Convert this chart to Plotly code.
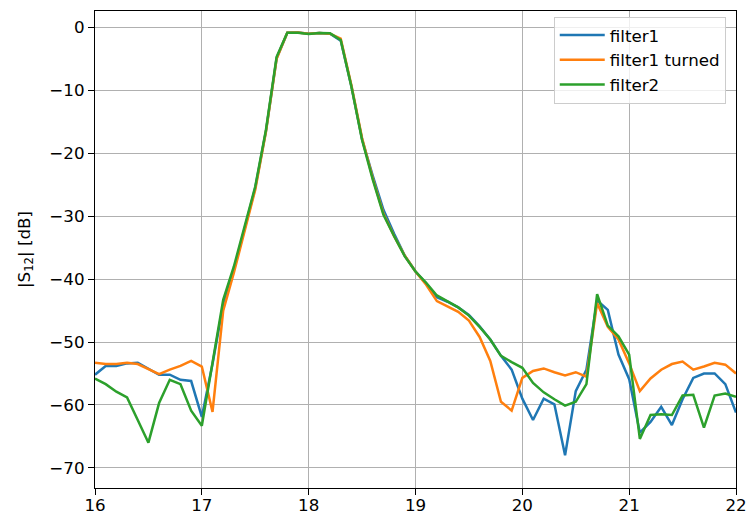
import plotly.graph_objects as go

freq = [16.0, 16.1, 16.2, 16.3, 16.4, 16.5, 16.6, 16.7, 16.8, 16.9,
        17.0, 17.1, 17.2, 17.3, 17.4, 17.5, 17.6, 17.7, 17.8, 17.9,
        18.0, 18.1, 18.2, 18.3, 18.4, 18.5, 18.6, 18.7, 18.8, 18.9,
        19.0, 19.1, 19.2, 19.3, 19.4, 19.5, 19.6, 19.7, 19.8, 19.9,
        20.0, 20.1, 20.2, 20.3, 20.4, 20.5, 20.6, 20.7, 20.8, 20.9,
        21.0, 21.1, 21.2, 21.3, 21.4, 21.5, 21.6, 21.7, 21.8, 21.9,
        22.0]

filter1 = [-55.2, -53.8, -53.8, -53.4, -53.3, -54.2, -55.2, -55.2, -56.0, -56.2,
           -61.9, -53.5, -44.0, -38.5, -31.8, -25.5, -16.5, -4.9, -0.85, -0.8,
           -1.0, -0.9, -1.0, -2.1, -9.4, -17.8, -23.6, -29.0, -32.8, -36.3,
           -38.8, -40.7, -42.9, -43.6, -44.5, -45.7, -47.5, -49.6, -52.2, -54.4,
           -59.0, -62.4, -59.0, -59.9, -68.0, -57.8, -54.4, -43.4, -44.9, -52.0,
           -55.9, -64.4, -62.7, -60.3, -63.2, -59.1, -55.7, -55.0, -55.0, -56.7,
           -61.2]

filter1_turned = [-53.3, -53.5, -53.5, -53.3, -53.5, -54.3, -55.1, -54.4, -53.8, -53.0,
                  -53.9, -61.1, -45.0, -39.0, -32.2, -25.8, -16.6, -5.0, -0.85, -0.8,
                  -1.0, -0.9, -1.0, -1.8, -9.2, -17.6, -24.0, -29.6, -33.2, -36.3,
                  -38.8, -40.9, -43.5, -44.3, -45.2, -46.6, -49.2, -53.0, -59.5, -60.9,
                  -55.7, -54.6, -54.2, -54.8, -55.3, -54.8, -55.5, -43.8, -47.6, -49.6,
                  -53.4, -57.8, -55.8, -54.4, -53.5, -53.1, -54.4, -53.9, -53.3, -53.6,
                  -55.0]

filter2 = [-55.8, -56.7, -57.9, -58.8, -62.4, -66.0, -59.7, -56.0, -56.7, -60.9,
           -63.3, -53.6, -43.3, -38.0, -31.6, -25.3, -16.3, -4.7, -0.85, -0.85,
           -1.05, -0.9, -0.95, -2.0, -9.4, -17.9, -24.2, -29.8, -33.2, -36.4,
           -38.8, -40.6, -42.6, -43.5, -44.5, -45.8, -47.6, -49.6, -52.2, -53.2,
           -54.1, -56.5, -58.0, -59.1, -60.1, -59.5, -56.7, -42.4, -47.4, -49.1,
           -52.0, -65.4, -61.6, -61.5, -61.6, -58.5, -58.4, -63.6, -58.5, -58.2,
           -58.7]

x_ticks = [16, 17, 18, 19, 20, 21, 22]
y_ticks = [0, -10, -20, -30, -40, -50, -60, -70]

series = [("filter1", filter1, "#1f77b4"),
          ("filter1 turned", filter1_turned, "#ff7f0e"),
          ("filter2", filter2, "#2ca02c")]

fig = go.Figure()
for name, vals, color in series:
    fig.add_trace(go.Scatter(x=freq, y=vals, mode="lines", name=name,
                             line=dict(color=color, width=2.5)))

font = "DejaVu Sans, sans-serif"
fs = 16.7
axis_common = dict(showline=True, linecolor="black", linewidth=1.3, mirror=True,
                   ticks="outside", ticklen=6, tickcolor="black", tickwidth=1.3,
                   showgrid=True, gridcolor="#b0b0b0", gridwidth=1.3,
                   zeroline=False, automargin=False, ticklabeloverflow="allow",
                   tickfont=dict(family=font, size=fs, color="black"))

fig.update_layout(
    width=746, height=516,
    margin=dict(l=95, r=10, t=11, b=28),
    paper_bgcolor="white", plot_bgcolor="white",
    font=dict(family=font, size=fs, color="black"),
    xaxis=dict(range=[16, 22], tickvals=x_ticks, ticklabelstandoff=-4, **axis_common),
    yaxis=dict(range=[-73.2, 2.6], tickvals=y_ticks,
               title=dict(text="|S<sub>12</sub>| [dB]", standoff=14,
                          font=dict(family=font, size=fs)),
               **axis_common),
    legend=dict(x=0.984, y=0.988, xanchor="right", yanchor="top",
                bgcolor="rgba(255,255,255,0.8)", bordercolor="#cccccc", borderwidth=1,
                font=dict(family=font, size=fs), tracegroupgap=0, itemwidth=45),
    showlegend=True,
)

fig.write_html("out.html")
